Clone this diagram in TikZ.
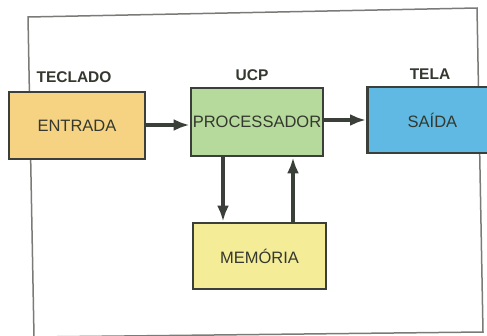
\documentclass[tikz,border=0pt]{standalone}
\usepackage{fontspec}
\setmainfont{Liberation Sans}
\usetikzlibrary{arrows.meta}
\definecolor{frameC}{HTML}{7A7A78}
\definecolor{edgeC}{HTML}{3A3F39}
\definecolor{txtC}{HTML}{34382F}
\definecolor{fEnt}{HTML}{F6D383}
\definecolor{fProc}{HTML}{B6D99C}
\definecolor{fSai}{HTML}{5FB9E2}
\definecolor{fMem}{HTML}{F5EC98}
\tikzset{
  blk/.style={draw=edgeC, line width=2.9pt, text=txtC, inner sep=0pt,
    font=\fontsize{16.5}{16.5}\selectfont},
  lbl/.style={text=txtC, inner sep=0pt, font=\bfseries\fontsize{15.5}{15.5}\selectfont},
  conn/.style={draw=edgeC, line width=3.2pt, -{Latex[length=16pt,width=12pt]}},
}
\begin{document}
\begin{tikzpicture}[x=1pt,y=-1pt]
\useasboundingbox (0,0) rectangle (487,335);
% outer frame
\coordinate (ftl) at (28,17);
\coordinate (ftr) at (477,8);
\coordinate (fbr) at (483,332);
\coordinate (fbl) at (34,337);
\draw[frameC, line width=1.5pt] (ftl) -- (ftr) -- (fbr) -- (fbl) -- cycle;
% blocks
\node[blk, fill=fEnt, minimum width=136pt, minimum height=67pt] (ent) at (77,125.5) {ENTRADA};
\node[blk, fill=fProc, minimum width=132pt, minimum height=68pt] (proc) at (257,122) {PROCESSADOR};
\node[blk, fill=fSai, minimum width=140pt, minimum height=66pt, anchor=west] (sai) at (366,120) {\hspace*{-10pt}SAÍDA};
\node[blk, fill=fMem, minimum width=133pt, minimum height=66pt] (mem) at (259.5,256) {MEMÓRIA};
% labels
\node[lbl] (tec) at (74,77) {TECLADO};
\node[lbl] (ucp) at (252,75) {UCP};
\node[lbl] (tel) at (430,74) {TELA};
% connectors
\coordinate (a1) at (ent.east |- 0,125);
\coordinate (a2) at (proc.west |- 0,125);
\draw[conn] (a1) -- (a2);
\coordinate (b1) at (proc.east |- 0,120);
\coordinate (b2) at (sai.west |- 0,120);
\draw[conn] (b1) -- (b2);
\coordinate (c1) at (223,0 |- proc.south);
\coordinate (c2) at (223,0 |- mem.north);
\draw[conn] (c1) -- (c2);
\coordinate (d1) at (293,0 |- mem.north);
\coordinate (d2) at (293,0 |- proc.south);
\draw[conn] (d1) -- (d2);
\end{tikzpicture}
\end{document}
